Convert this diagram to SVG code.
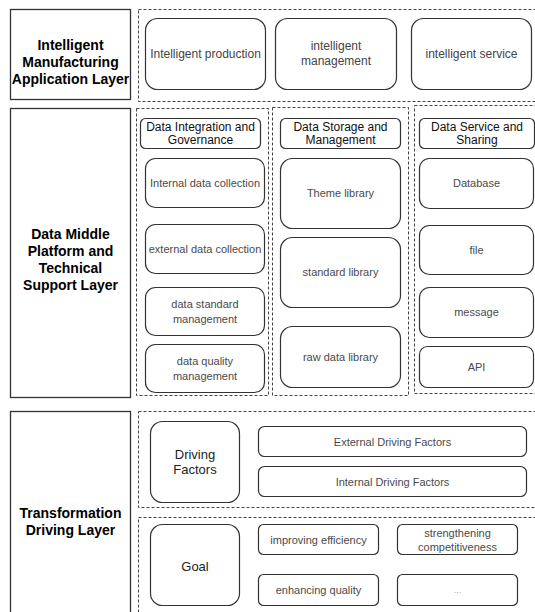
<svg xmlns="http://www.w3.org/2000/svg" width="535" height="612" viewBox="0 0 535 612">
<style>
text{font-family:"Liberation Sans",Arial,sans-serif;text-anchor:middle;dominant-baseline:central}
.layer{fill:#fff;stroke:#333;stroke-width:1.3}
.lt{font-size:14px;font-weight:bold;fill:#000}
.dash{fill:none;stroke:#444;stroke-width:1;stroke-dasharray:3 2}
.box{fill:#fff;stroke:#333;stroke-width:1.2}
.hd{font-size:12px;fill:#111}
.t12{font-size:12px;fill:#444}
.t11{font-size:11px;fill:#4a4a4a}
.t13{font-size:13px;fill:#222}
.dots{font-size:9px;fill:#aaa}
</style>
<rect width="535" height="612" fill="#fff"/>
<g id="layer-application">
<rect class="layer" x="10.5" y="9.5" width="120" height="90"/>
<text class="lt" x="70.5" y="45">Intelligent</text>
<text class="lt" x="70.5" y="62">Manufacturing</text>
<text class="lt" x="70.5" y="79">Application Layer</text>
</g>
<g id="layer-platform">
<rect class="layer" x="10.5" y="108.5" width="120" height="289"/>
<text class="lt" x="70.5" y="234">Data Middle</text>
<text class="lt" x="70.5" y="251">Platform and</text>
<text class="lt" x="70.5" y="268">Technical</text>
<text class="lt" x="70.5" y="285">Support Layer</text>
</g>
<g id="layer-driving">
<rect class="layer" x="10.5" y="411.5" width="120" height="220"/>
<text class="lt" x="70.5" y="513">Transformation</text>
<text class="lt" x="70.5" y="530">Driving Layer</text>
</g>
<g id="containers">
<rect class="dash" x="138.5" y="9.5" width="410" height="92"/>
<rect class="dash" x="136.5" y="108.5" width="132" height="287"/>
<rect class="dash" x="272.5" y="107.5" width="136" height="288"/>
<rect class="dash" x="414.5" y="105.5" width="130" height="288"/>
<rect class="dash" x="138.5" y="411.5" width="410" height="96"/>
<rect class="dash" x="138.5" y="517.5" width="410" height="110"/>
</g>
<g id="intelligent-production">
<rect class="box" x="145.5" y="18.5" width="120" height="71" rx="12"/>
<text class="t12" x="205.5" y="54">Intelligent production</text>
</g>
<g id="intelligent-management">
<rect class="box" x="275.5" y="18.5" width="121" height="71" rx="12"/>
<text class="t12" x="336" y="46">intelligent</text>
<text class="t12" x="336" y="61">management</text>
</g>
<g id="intelligent-service">
<rect class="box" x="411.5" y="18.5" width="120" height="71" rx="12"/>
<text class="t12" x="471.5" y="54">intelligent service</text>
</g>
<g id="hdr-integration">
<rect class="box" x="140.5" y="118.5" width="120" height="30" rx="5"/>
<text class="hd" x="200.5" y="127">Data Integration and</text>
<text class="hd" x="200.5" y="140">Governance</text>
</g>
<g id="internal-collection">
<rect class="box" x="145.5" y="158.5" width="119" height="49" rx="10"/>
<text class="t11" x="205" y="183">Internal data collection</text>
</g>
<g id="external-collection">
<rect class="box" x="145.5" y="224.5" width="119" height="49" rx="10"/>
<text class="t11" x="205" y="249">external data collection</text>
</g>
<g id="standard-management">
<rect class="box" x="145.5" y="287.5" width="119" height="48" rx="10"/>
<text class="t11" x="205" y="304">data standard</text>
<text class="t11" x="205" y="319">management</text>
</g>
<g id="quality-management">
<rect class="box" x="145.5" y="344.5" width="119" height="48" rx="10"/>
<text class="t11" x="205" y="361">data quality</text>
<text class="t11" x="205" y="376">management</text>
</g>
<g id="hdr-storage">
<rect class="box" x="280.5" y="118.5" width="120" height="30" rx="5"/>
<text class="hd" x="340.5" y="127">Data Storage and</text>
<text class="hd" x="340.5" y="140">Management</text>
</g>
<g id="theme-library">
<rect class="box" x="280.5" y="158.5" width="120" height="70" rx="12"/>
<text class="t11" x="340.5" y="193">Theme library</text>
</g>
<g id="standard-library">
<rect class="box" x="280.5" y="237.5" width="120" height="70" rx="12"/>
<text class="t11" x="340.5" y="272">standard library</text>
</g>
<g id="raw-library">
<rect class="box" x="280.5" y="326.5" width="120" height="61" rx="12"/>
<text class="t11" x="340.5" y="357">raw data library</text>
</g>
<g id="hdr-service">
<rect class="box" x="419.5" y="118.5" width="115" height="30" rx="5"/>
<text class="hd" x="477" y="127">Data Service and</text>
<text class="hd" x="477" y="140">Sharing</text>
</g>
<g id="database">
<rect class="box" x="419.5" y="158.5" width="114" height="50" rx="10"/>
<text class="t11" x="476.5" y="183">Database</text>
</g>
<g id="file">
<rect class="box" x="419.5" y="225.5" width="114" height="49" rx="10"/>
<text class="t11" x="476.5" y="250">file</text>
</g>
<g id="message">
<rect class="box" x="419.5" y="287.5" width="114" height="50" rx="10"/>
<text class="t11" x="476.5" y="312">message</text>
</g>
<g id="api">
<rect class="box" x="419.5" y="346.5" width="114" height="41" rx="8"/>
<text class="t11" x="476.5" y="367">API</text>
</g>
<g id="driving-factors">
<rect class="box" x="150.5" y="421.5" width="89" height="81" rx="12"/>
<text class="t13" x="195" y="454">Driving</text>
<text class="t13" x="195" y="469">Factors</text>
</g>
<g id="external-factors">
<rect class="box" x="258.5" y="426.5" width="268" height="30" rx="6"/>
<text class="t11" x="392.5" y="441.5">External Driving Factors</text>
</g>
<g id="internal-factors">
<rect class="box" x="258.5" y="466.5" width="268" height="30" rx="6"/>
<text class="t11" x="392.5" y="481.5">Internal Driving Factors</text>
</g>
<g id="goal">
<rect class="box" x="150.5" y="524.5" width="89" height="81" rx="12"/>
<text class="t13" x="195" y="566">Goal</text>
</g>
<g id="improving-efficiency">
<rect class="box" x="258.5" y="524.5" width="120" height="30" rx="5"/>
<text class="t11" x="318.5" y="539.5">improving efficiency</text>
</g>
<g id="strengthening-competitiveness">
<rect class="box" x="397.5" y="524.5" width="120" height="30" rx="5"/>
<text class="t11" x="457.5" y="532.5">strengthening</text>
<text class="t11" x="457.5" y="546.5">competitiveness</text>
</g>
<g id="enhancing-quality">
<rect class="box" x="258.5" y="574.5" width="120" height="31" rx="5"/>
<text class="t11" x="318.5" y="590">enhancing quality</text>
</g>
<g id="more">
<rect class="box" x="397.5" y="574.5" width="120" height="31" rx="5"/>
<text class="dots" x="457.5" y="590">...</text>
</g>
<g id="connectors"/>
</svg>
